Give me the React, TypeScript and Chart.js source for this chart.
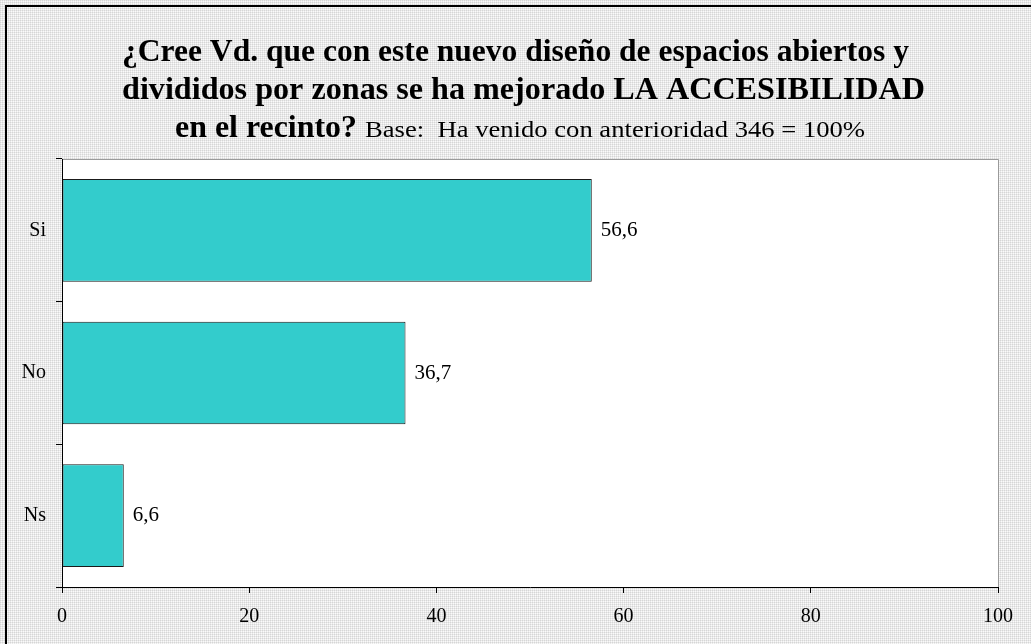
import React, { useEffect, useRef } from "react";
import { Chart, registerables } from "chart.js";

Chart.register(...registerables);

const categories = ["Si", "No", "Ns"];
const values = [56.6, 36.7, 6.6];
const valueLabels = ["56,6", "36,7", "6,6"];
const xTicks = [0, 20, 40, 60, 80, 100];
const titleLines = [
  "¿Cree Vd. que con este nuevo diseño de espacios abiertos y",
  "divididos por zonas se ha mejorado LA ACCESIBILIDAD",
];
const titleBold3 = "en el recinto?";
const titleNormal3 = "Base:  Ha venido con anterioridad 346 = 100%";

const W = 1031;
const H = 644;
const SERIF = "'Liberation Serif', 'Times New Roman', serif";

function makePattern(ctx: CanvasRenderingContext2D) {
  const c = document.createElement("canvas");
  c.width = 2;
  c.height = 2;
  const p = c.getContext("2d")!;
  p.fillStyle = "#e9e9e9";
  p.fillRect(0, 0, 2, 2);
  p.fillStyle = "#d6d6d6";
  p.fillRect(0, 0, 1, 1);
  p.fillStyle = "#fafafa";
  p.fillRect(1, 1, 1, 1);
  return ctx.createPattern(c, "repeat");
}

function drawFit(ctx: CanvasRenderingContext2D, text: string, x: number, y: number, targetW: number) {
  const w = ctx.measureText(text).width;
  ctx.save();
  ctx.translate(x, y);
  ctx.scale(targetW / w, 1);
  ctx.fillText(text, 0, 0);
  ctx.restore();
}

const decorPlugin = {
  id: "decor",
  beforeDraw(chart: any) {
    const { ctx, chartArea } = chart;
    ctx.save();
    ctx.fillStyle = makePattern(ctx) || "#e8e8e8";
    ctx.fillRect(0, 0, W, H);
    ctx.fillStyle = "#ffffff";
    ctx.fillRect(chartArea.left, chartArea.top, chartArea.right - chartArea.left, chartArea.bottom - chartArea.top);
    // outer border
    ctx.strokeStyle = "#000";
    ctx.lineWidth = 2;
    ctx.beginPath();
    ctx.moveTo(6, H + 5);
    ctx.lineTo(6, 6);
    ctx.lineTo(W + 5, 6);
    ctx.stroke();
    // plot area top/right borders
    ctx.strokeStyle = "#9a9a9a";
    ctx.lineWidth = 1;
    ctx.beginPath();
    ctx.moveTo(chartArea.left, chartArea.top + 0.5);
    ctx.lineTo(chartArea.right + 0.5, chartArea.top + 0.5);
    ctx.lineTo(chartArea.right + 0.5, chartArea.bottom);
    ctx.stroke();
    // title
    ctx.fillStyle = "#000";
    ctx.textBaseline = "alphabetic";
    ctx.textAlign = "left";
    ctx.font = "bold 31px " + SERIF;
    drawFit(ctx, titleLines[0], 122, 61, 787);
    drawFit(ctx, titleLines[1], 122, 99, 803);
    drawFit(ctx, titleBold3, 175, 137, 182);
    ctx.font = "24px " + SERIF;
    drawFit(ctx, titleNormal3, 365, 137, 500);
    ctx.restore();
  },
  afterDatasetsDraw(chart: any) {
    const { ctx } = chart;
    const meta = chart.getDatasetMeta(0);
    ctx.save();
    ctx.fillStyle = "#000";
    ctx.font = "21px " + SERIF;
    ctx.textAlign = "left";
    ctx.textBaseline = "middle";
    meta.data.forEach((bar: any, i: number) => {
      ctx.fillText(valueLabels[i], bar.x + 9, bar.y);
    });
    ctx.restore();
  },
};

export default function App() {
  const ref = useRef<HTMLCanvasElement>(null);
  useEffect(() => {
    const chart = new Chart(ref.current!, {
      type: "bar",
      data: {
        labels: categories,
        datasets: [
          {
            data: values,
            backgroundColor: "#33CCCC",
            borderColor: "#1a1a1a",
            borderWidth: 1,
            borderSkipped: false,
            barPercentage: 0.72,
            categoryPercentage: 1,
          },
        ],
      },
      options: {
        indexAxis: "y",
        responsive: false,
        animation: false,
        layout: { padding: { top: 159, right: 33, left: 0, bottom: 0 } },
        plugins: {
          legend: { display: false },
          tooltip: { enabled: false },
          title: { display: false },
        },
        scales: {
          x: {
            min: 0,
            max: 100,
            afterBuildTicks: (axis: any) => {
              axis.ticks = xTicks.map((v) => ({ value: v }));
            },
            afterFit: (axis: any) => {
              axis.height = 57;
            },
            grid: {
              drawOnChartArea: false,
              drawTicks: true,
              tickLength: 6,
              color: "#000",
            },
            border: { color: "#000", width: 1 },
            ticks: {
              color: "#000",
              padding: 12,
              maxRotation: 0,
              font: { family: SERIF, size: 20 },
            },
          },
          y: {
            afterFit: (axis: any) => {
              axis.width = 62;
            },
            grid: {
              offset: true,
              drawOnChartArea: false,
              drawTicks: true,
              tickLength: 6,
              color: "#000",
            },
            border: { color: "#000", width: 1 },
            ticks: {
              color: "#000",
              padding: 10,
              font: { family: SERIF, size: 20 },
            },
          },
        },
      },
      plugins: [decorPlugin],
    });
    return () => chart.destroy();
  }, []);
  return (
    <div style={{ position: "fixed", left: 0, top: 0, width: W, height: H, overflow: "hidden" }}>
      <canvas ref={ref} width={W} height={H} style={{ display: "block", width: W, height: H }} />
    </div>
  );
}
